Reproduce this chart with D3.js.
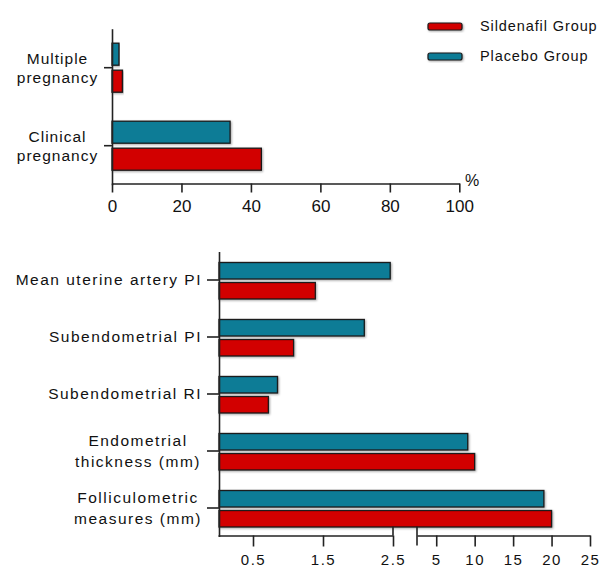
<!DOCTYPE html>
<html>
<head>
<meta charset="utf-8">
<script src="https://cdn.jsdelivr.net/npm/d3@7/dist/d3.min.js"></script>
<style>
  body { margin: 0; background: #fff; }
  svg { display: block; }
  text { font-family: "Liberation Sans", Arial, sans-serif; fill: #111; }
</style>
</head>
<body>
<svg id="chart" width="602" height="568"></svg>
<script>
// ---- data ----
const seriesNames = ["Sildenafil Group", "Placebo Group"];
const seriesKeys = ["Placebo", "Sildenafil"]; // order within group (top to bottom)
const topCategories = ["Multiple pregnancy", "Clinical pregnancy"];
const topLabelLines = [["Multiple", "pregnancy"], ["Clinical", "pregnancy"]];
const topPlacebo = [2, 34];
const topSildenafil = [3, 43];
const topTicks = [0, 20, 40, 60, 80, 100];

const bottomCategories = ["Mean uterine artery PI", "Subendometrial PI", "Subendometrial RI", "Endometrial thickness (mm)", "Folliculometric measures (mm)"];
const bottomLabelLines = [["Mean uterine artery PI"], ["Subendometrial PI"], ["Subendometrial RI"], ["Endometrial", "thickness (mm)"], ["Folliculometric", "measures (mm)"]];
const bottomPlacebo = [2.46, 2.09, 0.85, 9.1, 19];
const bottomSildenafil = [1.39, 1.08, 0.72, 10, 20];
const bottomTicksLeft = [0.5, 1.5, 2.5];
const bottomTicksRight = [5, 10, 15, 20, 25];

// ---- style ----
const RED = "#d20000";
const TEAL = "#0a7b96";
const colors = { Sildenafil: RED, Placebo: TEAL };
const AXIS = "#222";

const svg = d3.select("#chart");
const defs = svg.append("defs");
const f = defs.append("filter").attr("id", "shadow").attr("x", "-10%").attr("y", "-30%").attr("width", "120%").attr("height", "160%");
f.append("feDropShadow").attr("dx", 1).attr("dy", 1).attr("stdDeviation", 0.8).attr("flood-color", "#000").attr("flood-opacity", 0.35);

function styleAxis(g) {
  g.selectAll("path.domain").attr("stroke", AXIS).attr("stroke-width", 1.6);
  g.selectAll(".tick line").attr("stroke", AXIS).attr("stroke-width", 1.6);
}

// ================= TOP CHART =================
const xTop = d3.scaleLinear().domain([0, 100]).range([112, 459.3]);
const yTop = d3.scaleBand().domain(topCategories).range([28.7, 184.7]);
const yTopInner = d3.scaleBand().domain(seriesKeys).range([-24.5, 24.5]).paddingInner(0.185);

const topG = svg.append("g");
const topData = topCategories.map((c, i) => ({ c, i, Placebo: topPlacebo[i], Sildenafil: topSildenafil[i] }));

topData.forEach(d => {
  const center = yTop(d.c) + yTop.bandwidth() / 2;
  seriesKeys.forEach(k => {
    topG.append("rect")
      .attr("x", xTop(0))
      .attr("y", center + yTopInner(k))
      .attr("width", xTop(d[k]) - xTop(0))
      .attr("height", yTopInner.bandwidth())
      .attr("fill", colors[k])
      .attr("stroke", "#1a1a1a").attr("stroke-width", 1.3)
      .attr("filter", "url(#shadow)");
  });
});

const topXAxis = topG.append("g").attr("transform", `translate(0,${183.5})`)
  .call(d3.axisBottom(xTop).tickValues(topTicks).tickSize(9).tickSizeOuter(0).tickPadding(3));
styleAxis(topXAxis);
topXAxis.selectAll(".tick text").attr("font-size", 17).attr("dy", null).attr("y", 28.5).attr("font-family", "Liberation Sans, Arial, sans-serif");

const topYAxis = topG.append("g").attr("transform", `translate(${112},0)`)
  .call(d3.axisLeft(yTop).tickSize(8).tickSizeOuter(0).tickFormat(""));
styleAxis(topYAxis);

topData.forEach(d => {
  const center = yTop(d.c) + yTop.bandwidth() / 2;
  const t = topG.append("text").attr("text-anchor", "middle").attr("font-size", 15.5).attr("letter-spacing", 1.0);
  topLabelLines[d.i].forEach((line, j) => {
    t.append("tspan").attr("x", 57.5).attr("y", center + (j === 0 ? -4 : 15)).text(line);
  });
});

topG.append("text").attr("x", 465).attr("y", 186).attr("font-size", 16).text("%");

// legend
const legend = svg.append("g");
const legendItems = [{ name: seriesNames[0], color: RED, y: 26.5 }, { name: seriesNames[1], color: TEAL, y: 56.5 }];
legendItems.forEach(it => {
  legend.append("rect").attr("x", 428).attr("y", it.y - 3.5).attr("width", 34).attr("height", 7).attr("rx", 2)
    .attr("fill", it.color).attr("stroke", "#1a1a1a").attr("stroke-width", 1.2).attr("filter", "url(#shadow)");
  legend.append("text").attr("x", 480).attr("y", it.y + 4.5).attr("font-size", 14.5).attr("letter-spacing", 0.9).text(it.name);
});

// ================= BOTTOM CHART =================
const xLeft = d3.scaleLinear().domain([0, 2.5]).range([218, 393]);
const xRight = d3.scaleLinear().domain([2.5, 25]).range([417, 590]);
const xB = v => (v <= 2.5 ? xLeft(v) : xRight(v));
const yB = d3.scaleBand().domain(bottomCategories).range([251.5, 536.5]);
const yBInner = d3.scaleBand().domain(seriesKeys).range([-17.5, 19]).paddingInner(0.175);

const botG = svg.append("g");
const botData = bottomCategories.map((c, i) => ({ c, i, Placebo: bottomPlacebo[i], Sildenafil: bottomSildenafil[i] }));

botData.forEach(d => {
  const center = yB(d.c) + yB.bandwidth() / 2;
  seriesKeys.forEach(k => {
    botG.append("rect")
      .attr("x", xLeft(0) + 1)
      .attr("y", center + yBInner(k))
      .attr("width", xB(d[k]) - xLeft(0) - 1)
      .attr("height", yBInner.bandwidth())
      .attr("fill", colors[k])
      .attr("stroke", "#1a1a1a").attr("stroke-width", 1.3)
      .attr("filter", "url(#shadow)");
  });
});

const axisY = 535.5;
const leftAxis = botG.append("g").attr("transform", `translate(0,${axisY})`)
  .call(d3.axisBottom(xLeft).tickValues(bottomTicksLeft).tickSize(11).tickSizeOuter(0).tickFormat(d3.format(".1f")));
styleAxis(leftAxis);
const rightAxis = botG.append("g").attr("transform", `translate(0,${axisY})`)
  .call(d3.axisBottom(xRight).tickValues(bottomTicksRight).tickSize(11).tickSizeOuter(0).tickFormat(d3.format("d")));
styleAxis(rightAxis);
[leftAxis, rightAxis].forEach(g => g.selectAll(".tick text").attr("font-size", 15).attr("dy", null).attr("y", 29).attr("letter-spacing", 1.5));

// break marks
botG.append("line").attr("x1", xLeft(2.5)).attr("x2", xLeft(2.5)).attr("y1", axisY - 9).attr("y2", axisY).attr("stroke", AXIS).attr("stroke-width", 1.6);
botG.append("line").attr("x1", xRight(2.5)).attr("x2", xRight(2.5)).attr("y1", axisY - 9).attr("y2", axisY + 10).attr("stroke", AXIS).attr("stroke-width", 1.6);

const botYAxis = botG.append("g").attr("transform", `translate(${219},0)`)
  .call(d3.axisLeft(yB).tickSize(12).tickSizeOuter(0).tickFormat(""));
styleAxis(botYAxis);

botData.forEach(d => {
  const center = yB(d.c) + yB.bandwidth() / 2;
  const lines = bottomLabelLines[d.i];
  if (lines.length === 1) {
    botG.append("text").attr("text-anchor", "end").attr("x", 202).attr("y", center + 5)
      .attr("font-size", 15.5).attr("letter-spacing", 1.5).text(lines[0]);
  } else {
    const t = botG.append("text").attr("text-anchor", "middle").attr("font-size", 15.5).attr("letter-spacing", 1.5);
    lines.forEach((line, j) => {
      t.append("tspan").attr("x", 138).attr("y", center + (j === 0 ? -5.5 : 16)).text(line);
    });
  }
});
</script>
</body>
</html>
